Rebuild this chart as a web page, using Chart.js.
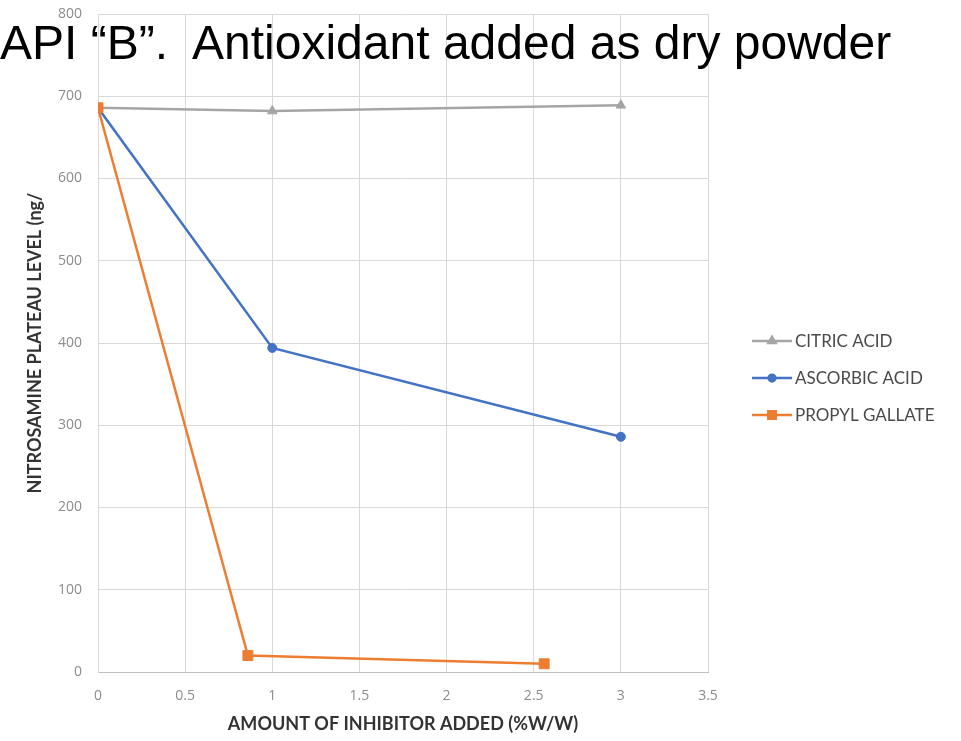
<!DOCTYPE html>
<html>
<head>
<meta charset="utf-8">
<script src="https://cdn.jsdelivr.net/npm/chart.js@4"></script>
<style>
  body { margin: 0; background: #fff; }
  #wrap { position: relative; width: 961px; height: 741px; }
  #title {
    position: absolute; left: 0; top: 19px;
    font-family: "Liberation Sans", Arial, sans-serif;
    font-size: 48px; line-height: 48px; color: #000;
    white-space: pre; pointer-events: none;
  }
</style>
</head>
<body>
<div id="wrap">
  <canvas id="chart" width="961" height="741"></canvas>
  <div id="title">API “B”.  Antioxidant added as dry powder</div>
</div>
<script>
// valores
const seriesNames = ["CITRIC ACID", "ASCORBIC ACID", "PROPYL GALLATE"];
const citricX = [0, 1, 3];
const citricY = [686, 682, 689];
const ascorbicX = [0, 1, 3];
const ascorbicY = [686, 394, 286];
const propylX = [0, 0.86, 2.56];
const propylY = [686, 20, 10];
const colors = ["#a5a5a5", "#4472c4", "#ed7d31"];
const markers = ["triangle", "circle", "rect"];
const markerSizes = [5.5, 4.5, 7];

const toPoints = (xs, ys) => xs.map((x, i) => ({ x: x, y: ys[i] }));
const allX = [citricX, ascorbicX, propylX];
const allY = [citricY, ascorbicY, propylY];

const datasets = seriesNames.map((name, i) => ({
    label: name,
    data: toPoints(allX[i], allY[i]),
    borderColor: colors[i],
    backgroundColor: colors[i],
    borderWidth: 2.5,
    pointStyle: markers[i],
    pointRadius: markerSizes[i],
    pointBorderWidth: 1,
    order: 2 - i,
}));

// leyenda a la derecha: linea con marcador en medio
const sideLegend = {
    id: "sideLegend",
    afterDraw(chart) {
        const ctx = chart.ctx;
        const rows = [341, 378, 415];
        ctx.save();
        chart.data.datasets.forEach((ds, i) => {
            const y = rows[i];
            ctx.strokeStyle = ds.borderColor;
            ctx.lineWidth = 2.5;
            ctx.beginPath();
            ctx.moveTo(752, y);
            ctx.lineTo(792, y);
            ctx.stroke();
            ctx.fillStyle = ds.backgroundColor;
            Chart.helpers.drawPoint(ctx, {
                pointStyle: ds.pointStyle,
                radius: ds.pointRadius * 0.75,
                borderWidth: 1,
            }, 772, y);
            ctx.fill();
            ctx.fillStyle = "#4a4a4a";
            ctx.font = "17px Lato";
            ctx.textBaseline = "middle";
            ctx.textAlign = "left";
            ctx.fillText(ds.label, 795, y + 1);
        });
        ctx.restore();
    },
};

const tickFmt = (v) => String(v);

const ctx = document.getElementById("chart").getContext("2d");
const chart = new Chart(ctx, {
    type: "line",
    data: { datasets: datasets },
    options: {
        responsive: false,
        animation: false,
        layout: { padding: { top: 0, right: 253, left: 0, bottom: 0 } },
        plugins: { legend: { display: false }, tooltip: { enabled: false } },
        scales: {
            x: {
                type: "linear",
                min: 0,
                max: 3.5,
                afterFit: (scale) => { scale.height = 69; },
                ticks: { stepSize: 0.5, padding: 16, color: "#8c8c8c", callback: tickFmt, font: { family: "Open Sans", size: 14 } },
                grid: { color: "#d9d9d9", drawTicks: false },
                border: { color: "#bfbfbf" },
                title: {
                    display: true,
                    text: "AMOUNT OF INHIBITOR ADDED (%W/W)",
                    color: "#333",
                    font: { family: "Lato", size: 18, weight: "bold" },
                    padding: { top: 0, bottom: 6 },
                },
            },
            y: {
                min: 0,
                max: 800,
                afterFit: (scale) => {
                    scale.width = 98;
                    scale.paddingTop = 14;
                    scale.paddingBottom = 0;
                },
                ticks: { stepSize: 100, padding: 16, color: "#8c8c8c", callback: tickFmt, font: { family: "Open Sans", size: 14 } },
                grid: { color: "#d9d9d9", drawTicks: false },
                border: { color: "#d9d9d9" },
                title: {
                    display: true,
                    text: "NITROSAMINE PLATEAU LEVEL (ng/",
                    color: "#333",
                    font: { family: "Lato", size: 18, weight: "bold" },
                    padding: { top: 24, bottom: 0 },
                },
            },
        },
    },
    plugins: [sideLegend],
});
</script>
</body>
</html>
